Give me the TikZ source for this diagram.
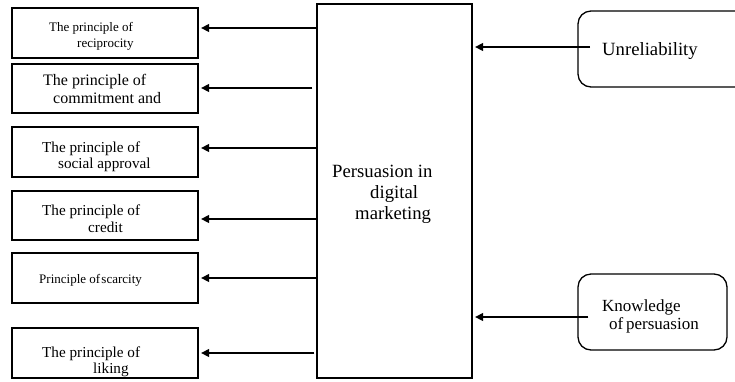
\documentclass[tikz,border=0pt]{standalone}
\usepackage{fontspec}
\setmainfont{Liberation Serif}
\usetikzlibrary{arrows.meta}
\begin{document}
\begin{tikzpicture}[x=1pt,y=-1pt,
  box/.style={draw,line width=1.3pt,inner sep=0pt},
  rbox/.style={draw,line width=1.3pt,rounded corners=13pt,inner sep=0pt},
  txt/.style={anchor=base west,inner sep=0pt},
  arr/.style={line width=1.3pt,-{Triangle[length=8pt,width=8pt]},shorten >=2.5pt},
  fA/.style={font=\rmfamily\fontsize{13}{15}\selectfont},
  fB/.style={font=\rmfamily\fontsize{16}{18}\selectfont},
  fC/.style={font=\rmfamily\fontsize{15.2}{17}\selectfont},
  fD/.style={font=\rmfamily\fontsize{18.7}{21}\selectfont},
  fE/.style={font=\rmfamily\fontsize{17}{19}\selectfont}]
\useasboundingbox (0,0) rectangle (735,381);
\fill[white] (0,0) rectangle (735,381);
\begin{scope}
\clip (0,0) rectangle (735,381);
% central box
\node[box,minimum width=155pt,minimum height=374pt] (c) at (394.5,191) {};
% left boxes
\node[box,minimum width=186pt,minimum height=50pt] (b1) at (105,33) {};
\node[box,minimum width=186pt,minimum height=49pt] (b2) at (105,88.5) {};
\node[box,minimum width=186pt,minimum height=50pt] (b3) at (105,152) {};
\node[box,minimum width=186pt,minimum height=49pt] (b4) at (105,215.5) {};
\node[box,minimum width=186pt,minimum height=50pt] (b5) at (105,278) {};
\node[box,minimum width=186pt,minimum height=50pt] (b6) at (105,353) {};
% right boxes (the upper one runs off the right edge)
\draw[line width=1.3pt,rounded corners=13pt] (760,11) -- (578,11) -- (578,87) -- (760,87);
\coordinate (u) at (590,47);
\node[rbox,minimum width=149pt,minimum height=76pt] (k) at (652.5,312) {};
% texts
\node[txt,fA] (t1a) at (49,31) {The principle of};
\node[txt,fA] (t1b) at (77,47) {reciprocity};
\node[txt,fB] (t2a) at (43,85) {The principle of};
\node[txt,fB] (t2b) at (53,103) {commitment and};
\node[txt,fC] (t3a) at (42,152) {The principle of};
\node[txt,fC] (t3b) at (58,168) {social approval};
\node[txt,fC] (t4a) at (42,215) {The principle of};
\node[txt,fC] (t4b) at (88,232) {credit};
\node[txt,fA] (t5a) at (39,283) {Principle of\hspace{-2pt} scarcity};
\node[txt,fC] (t6a) at (42,357) {The principle of};
\node[txt,fC] (t6b) at (93,373) {liking};
\node[txt,fD] (tca) at (332,177) {Persuasion in};
\node[txt,fD] (tcb) at (370,198) {digital};
\node[txt,fD] (tcc) at (355,219) {marketing};
\node[txt,fD] (tu) at (602,55) {Unreliability};
\node[txt,fE] (tka) at (602,311) {Knowledge};
\node[txt,fE] (tkb) at (609,329) {of\hspace{-1.5pt} persuasion};
% arrows to the left boxes
\draw[arr] (c.west |- 0,28) -- (b1.east |- 0,28);
\draw[arr] ([xshift=-4pt]c.west |- 0,88) -- (b2.east |- 0,88);
\draw[arr] (c.west |- 0,148) -- (b3.east |- 0,148);
\draw[arr] (c.west |- 0,219) -- (b4.east |- 0,219);
\draw[arr] (c.west |- b5.east) -- (b5.east);
\draw[arr] ([xshift=-2pt]c.west |- b6.east) -- (b6.east);
% arrows from the right boxes
\draw[arr] (u) -- (c.east |- u);
\draw[arr] ([xshift=11pt]k.west |- 0,317) -- (c.east |- 0,317);
\end{scope}
\end{tikzpicture}
\end{document}
